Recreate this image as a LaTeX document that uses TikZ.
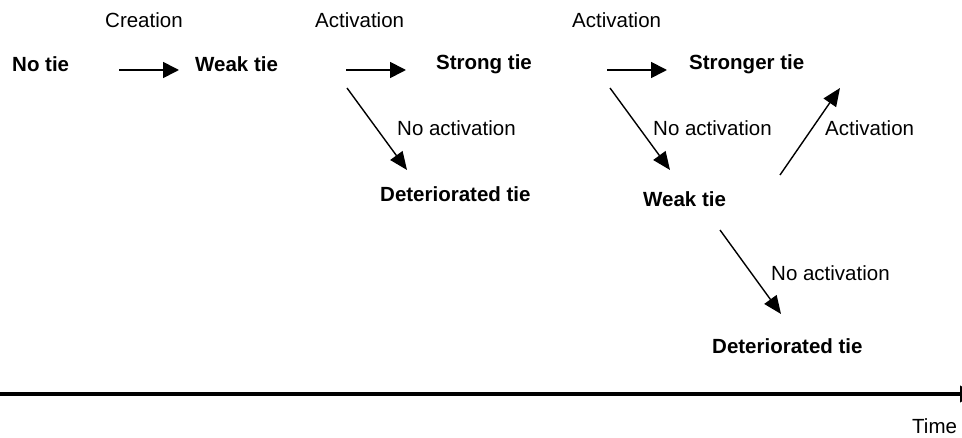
\documentclass[tikz,border=0pt]{standalone}
\usepackage{fontspec}
\setmainfont{Liberation Sans}
\usetikzlibrary{arrows.meta}
\begin{document}
\begin{tikzpicture}[x=1pt,y=-1pt,
  state/.style={font=\fontsize{20.5}{24}\selectfont\bfseries, inner sep=0pt, anchor=west},
  lbl/.style={font=\fontsize{20.5}{24}\selectfont, inner sep=0pt, anchor=west},
  flow/.style={line width=1.7pt, -{Triangle[length=16pt,width=16pt]}},
  slant/.style={line width=1.4pt, -{Triangle[length=18pt,width=15pt]}},
  axis/.style={line width=3.5pt, -{Triangle[length=16pt,width=16pt]}}]
\clip (0,0) rectangle (962,438);
\useasboundingbox (0,0) rectangle (962,438);

% states
\node[state] (notie)   at (12,64)  {No tie};
\node[state] (weak1)   at (195,64) {Weak tie};
\node[state] (strong)  at (436,64) {Strong tie};
\node[state] (stronger) at (689,64) {Stronger tie};
\node[state] (det1)    at (380,194) {Deteriorated tie};
\node[state] (weak2)   at (643,199) {Weak tie};
\node[state] (det2)    at (712,346) {Deteriorated tie};

% transition labels
\node[lbl] (lcre)  at (105,20)  {Creation};
\node[lbl] (lact1) at (315,20)  {Activation};
\node[lbl] (lact2) at (572,20)  {Activation};
\node[lbl] (lno1)  at (397,128) {No activation};
\node[lbl] (lno2)  at (653,128) {No activation};
\node[lbl] (lact3) at (825,128) {Activation};
\node[lbl] (lno3)  at (771,273) {No activation};
\node[lbl] (ltime) at (912,426) {Time};

% arrow end points
\coordinate (a1s) at (119,70);  \coordinate (a1e) at (179,70);
\coordinate (a2s) at (346,70);  \coordinate (a2e) at (406,70);
\coordinate (a3s) at (607,70);  \coordinate (a3e) at (667,70);
\coordinate (d1s) at (347,88);  \coordinate (d1e) at (407,170);
\coordinate (d2s) at (610,88);  \coordinate (d2e) at (670,170);
\coordinate (u1s) at (780,175); \coordinate (u1e) at (840,88);
\coordinate (d3s) at (720,230); \coordinate (d3e) at (781,314);
\coordinate (ts)  at (-5,394);  \coordinate (te)  at (976,394);

\draw[flow] (a1s) -- (a1e);
\draw[flow] (a2s) -- (a2e);
\draw[flow] (a3s) -- (a3e);
\draw[slant] (d1s) -- (d1e);
\draw[slant] (d2s) -- (d2e);
\draw[slant] (u1s) -- (u1e);
\draw[slant] (d3s) -- (d3e);
\draw[axis] (ts) -- (te);
\end{tikzpicture}
\end{document}
